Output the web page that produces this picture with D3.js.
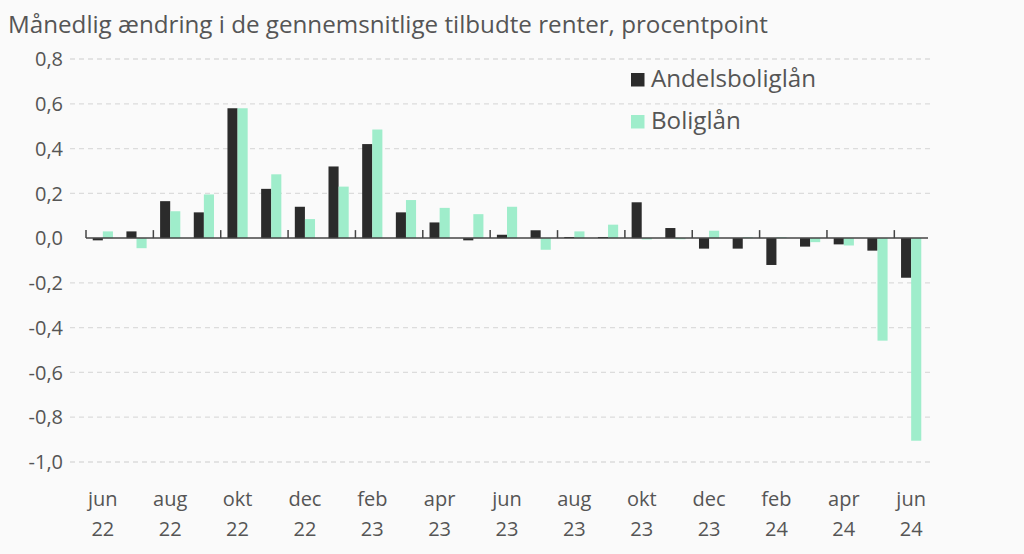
<!DOCTYPE html>
<html>
<head>
<meta charset="utf-8">
<script src="https://cdn.jsdelivr.net/npm/d3@7"></script>
<style>
  body { margin: 0; background: #fafafa; }
  #chart { width: 1024px; height: 554px; }
  text { font-family: "Open Sans", "Noto Sans", sans-serif; fill: #555; }
</style>
</head>
<body>
<div id="chart"></div>
<script>
// months shown on the x axis (every second one gets a label)
const months = ["jun 22", "jul 22", "aug 22", "sep 22", "okt 22", "nov 22", "dec 22",
    "jan 23", "feb 23", "mar 23", "apr 23", "maj 23", "jun 23", "jul 23", "aug 23",
    "sep 23", "okt 23", "nov 23", "dec 23", "jan 24", "feb 24", "mar 24", "apr 24",
    "maj 24", "jun 24"];

const andelsbolig = [-0.01, 0.03, 0.165, 0.115, 0.58, 0.22, 0.14, 0.32, 0.42, 0.115,
    0.07, -0.01, 0.015, 0.035, 0.005, 0.005, 0.16, 0.045, -0.047, -0.047, -0.12,
    -0.038, -0.028, -0.056, -0.177];

const bolig = [0.03, -0.045, 0.12, 0.195, 0.58, 0.285, 0.085, 0.23, 0.485, 0.17,
    0.135, 0.107, 0.14, -0.052, 0.03, 0.06, -0.006, -0.005, 0.033, 0.004, 0.004,
    -0.018, -0.033, -0.458, -0.905];

const keys = ["Andelsboliglån", "Boliglån"];
const yTicks = [0.8, 0.6, 0.4, 0.2, 0, -0.2, -0.4, -0.6, -0.8, -1.0];

const width = 1024, height = 554;
const margin = { top: 59, left: 86, right: 96, bottom: 92 };

const colorScale = d3.scaleOrdinal().domain(keys).range(["#2b2b2b", "#9fedcb"]);

const svg = d3.select("#chart").append("svg")
    .attr("width", width)
    .attr("height", height);

svg.append("rect").attr("width", width).attr("height", height).attr("fill", "#fafafa");

// shrink/grow a text's font until it takes the wanted width
function fitWidth(sel, target) {
    sel.each(function () {
        const w = this.getComputedTextLength();
        const fs = parseFloat(d3.select(this).attr("font-size"));
        d3.select(this).attr("font-size", (fs * target / w).toFixed(2));
    });
}

// data rows
const data = months.map((m, i) => ({ month: m, "Andelsboliglån": andelsbolig[i], "Boliglån": bolig[i] }));

const xScale = d3.scaleBand()
    .domain(months)
    .range([margin.left, width - margin.right])
    .paddingInner(0.4)
    .paddingOuter(0.2);

const xSub = d3.scaleBand().domain(keys).range([0, xScale.bandwidth()]);

const yScale = d3.scaleLinear()
    .domain([-1.0, 0.8])
    .range([height - margin.bottom, margin.top]);

// title
svg.append("text")
    .attr("x", 8)
    .attr("y", 33)
    .attr("font-size", 21)
    .text("Månedlig ændring i de gennemsnitlige tilbudte renter, procentpoint")
    .call(fitWidth, 760);

// dashed grid + y labels
svg.selectAll(".grid")
    .data(yTicks.filter(d => d !== 0))
    .enter()
    .append("line")
    .attr("class", "grid")
    .attr("x1", 70)
    .attr("x2", width - margin.right + 2)
    .attr("y1", d => yScale(d))
    .attr("y2", d => yScale(d))
    .attr("stroke", "#dcdcdc")
    .attr("stroke-width", 1.3)
    .attr("stroke-dasharray", "5,4");

svg.selectAll(".ylab")
    .data(yTicks)
    .enter()
    .append("text")
    .attr("class", "ylab")
    .attr("x", 63)
    .attr("y", d => yScale(d))
    .attr("dy", "0.36em")
    .attr("text-anchor", "end")
    .attr("font-size", 20)
    .text(d => d3.format(".1f")(d).replace(".", ",").replace("−", "-"));

// bars
const groups = svg.selectAll(".month")
    .data(data)
    .enter()
    .append("g")
    .attr("class", "month")
    .attr("transform", d => `translate(${xScale(d.month)},0)`);

groups.selectAll("rect")
    .data(d => keys.map(k => ({ key: k, value: d[k] })))
    .enter()
    .append("rect")
    .attr("x", d => xSub(d.key))
    .attr("width", xSub.bandwidth())
    .attr("y", d => yScale(Math.max(0, d.value)))
    .attr("height", d => Math.abs(yScale(d.value) - yScale(0)))
    .attr("fill", d => colorScale(d.key));

// zero axis with small ticks pointing up
const step = xScale.step();
svg.append("line")
    .attr("x1", margin.left)
    .attr("x2", width - margin.right)
    .attr("y1", yScale(0))
    .attr("y2", yScale(0))
    .attr("stroke", "#444")
    .attr("stroke-width", 1.5);

svg.selectAll(".tick-up")
    .data(months.filter((d, i) => i % 2 === 0))
    .enter()
    .append("line")
    .attr("class", "tick-up")
    .attr("x1", d => xScale(d) - step * 0.2)
    .attr("x2", d => xScale(d) - step * 0.2)
    .attr("y1", yScale(0) - 8)
    .attr("y2", yScale(0))
    .attr("stroke", "#444")
    .attr("stroke-width", 1.5);

// x labels: month on one line, year below
const xl = svg.selectAll(".xlab")
    .data(months.filter((d, i) => i % 2 === 0))
    .enter()
    .append("text")
    .attr("class", "xlab")
    .attr("text-anchor", "middle")
    .attr("font-size", 20)
    .attr("x", d => xScale(d) + xScale.bandwidth() / 2);

xl.append("tspan").attr("x", d => xScale(d) + xScale.bandwidth() / 2).attr("y", 506).text(d => d.split(" ")[0]);
xl.append("tspan").attr("x", d => xScale(d) + xScale.bandwidth() / 2).attr("y", 536).text(d => d.split(" ")[1]);

// legend
const legend = svg.selectAll(".legend")
    .data(keys)
    .enter()
    .append("g")
    .attr("class", "legend")
    .attr("transform", (d, i) => `translate(631,${73 + i * 42})`);

legend.append("rect")
    .attr("width", 13.5)
    .attr("height", 13.5)
    .attr("fill", d => colorScale(d));

legend.append("text")
    .attr("x", 20)
    .attr("y", 13.5)
    .attr("font-size", 24)
    .text(d => d);

fitWidth(legend.filter((d, i) => i === 0).select("text"), 165);
legend.filter((d, i) => i === 1).select("text")
    .attr("font-size", legend.filter((d, i) => i === 0).select("text").attr("font-size"));
</script>
</body>
</html>
